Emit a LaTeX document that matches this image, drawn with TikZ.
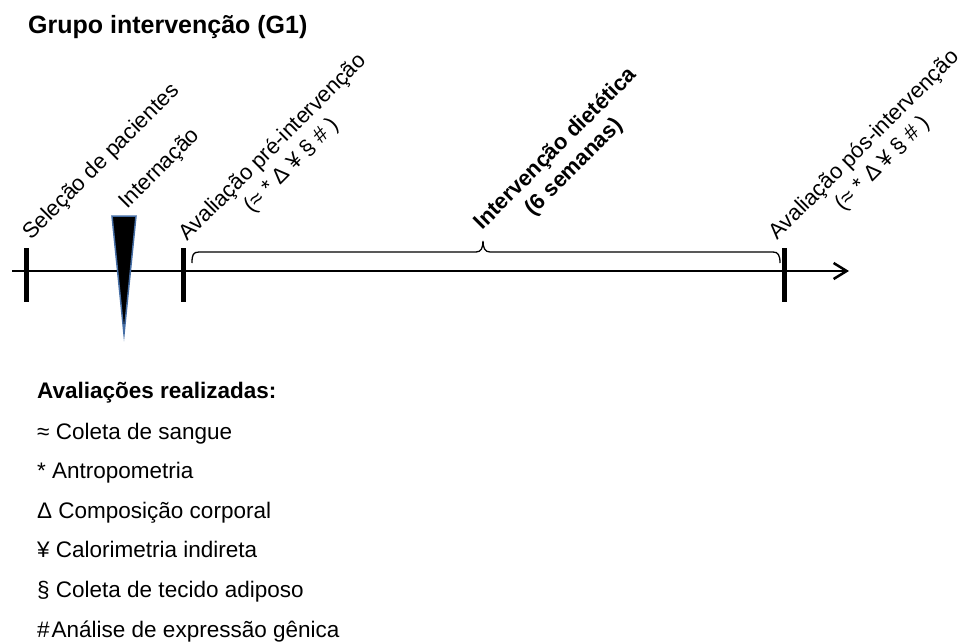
\documentclass[tikz,border=0pt]{standalone}
\usepackage{fontspec}
\setmainfont{Liberation Sans}
\usetikzlibrary{arrows.meta}

\definecolor{contorno}{RGB}{70,110,165}
\tikzset{
  rotulo/.style={rotate=45, anchor=base west, inner sep=0pt, align=center,
    font=\fontsize{22}{26}\selectfont},
  legenda/.style={anchor=base west, inner sep=0pt, font=\fontsize{22.5}{26}\selectfont},
  eixo/.style={line width=2.5pt, -{Straight Barb[length=13pt,width=16pt]}},
  marca/.style={line width=5pt},
  chave/.style={line width=1.3pt},
}

\begin{document}
\begin{tikzpicture}[x=1pt,y=-1pt]
    \useasboundingbox (0,0) rectangle (962,643);
    \node[anchor=base west, inner sep=0pt, font=\fontsize{25}{28}\selectfont\bfseries]
      (titulo) at (28,33) {Grupo intervenção (G1)};
    % linha do tempo
    \coordinate (inicio) at (12,271);
    \coordinate (fim) at (849,271);
    \coordinate (t1) at (26,271);
    \coordinate (t2) at (183,271);
    \coordinate (t3) at (784,271);
    \draw[eixo] (inicio) -- (fim);
    \draw[marca] (t1) ++(0,-23) -- ++(0,54);
    \draw[marca] (t2) ++(0,-23) -- ++(0,54);
    \draw[marca] (t3) ++(0,-23) -- ++(0,54);
    \draw[fill=black, draw=contorno, line width=1.5pt] (112,216) -- (136,216) -- (124,334) -- cycle;
    \draw[chave] (192,263) .. controls (192,255) and (193,252) .. (199,252) -- (476,252)
      .. controls (481,252) and (483,248) .. (483,241)
      .. controls (483,248) and (485,252) .. (490,252) -- (773,252)
      .. controls (778,252) and (780,255) .. (780,263);
    % rotulos inclinados (base da ultima linha)
    \node[rotulo] (selecao) at (31,241) {Seleção de pacientes};
    \node[rotulo] (internacao) at (127,210) {Internação};
    \node[rotulo] (pre) at (206,260) {Avaliação pré-intervenção\\(≈ * Δ ¥ § \# )};
    \node[rotulo, font=\fontsize{22}{26}\selectfont\bfseries] (dieta) at (501,249) {Intervenção dietética\\(6 semanas)};
    \node[rotulo] (pos) at (796,259) {Avaliação pós-intervenção\\(≈ * Δ ¥ § \# )};
    % legenda
    \node[legenda, font=\fontsize{22.5}{26}\selectfont\bfseries] (aval) at (37,398) {Avaliações realizadas:};
    \node[legenda] (leg1) at (37,439) {≈ Coleta de sangue};
    \node[legenda] (leg2) at (37,478) {* Antropometria};
    \node[legenda] (leg3) at (37,518) {Δ Composição corporal};
    \node[legenda] (leg4) at (37,557) {¥ Calorimetria indireta};
    \node[legenda] (leg5) at (37,597) {§ Coleta de tecido adiposo};
    \node[legenda] (leg6) at (37,637) {\#\kern2pt Análise de expressão gênica};
\end{tikzpicture}
\end{document}
